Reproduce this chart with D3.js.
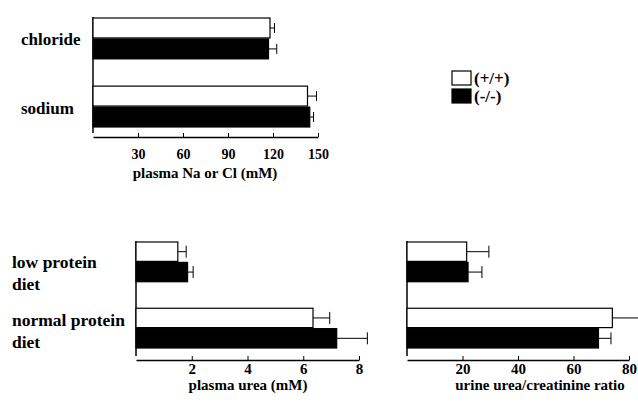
<!DOCTYPE html>
<html>
<head>
<meta charset="utf-8">
<script src="https://cdn.jsdelivr.net/npm/d3@7"></script>
<style>
  body { margin: 0; background: #fff; }
  text { font-family: "Liberation Serif", "Times New Roman", serif; font-weight: bold; fill: #000; }
</style>
</head>
<body>
<div id="chart"></div>
<script>
// Data
var genotypes = ["(+/+)", "(-/-)"];

var ionCategories = ["chloride", "sodium"];
var ionMeans = { "chloride": [118, 117], "sodium": [143, 144.5] };
var ionErrors = { "chloride": [3, 5.5], "sodium": [6, 2.5] };
var ionTicks = [30, 60, 90, 120, 150];

var dietCategories = ["low protein diet", "normal protein diet"];
var ureaMeans = { "low protein diet": [1.5, 1.85], "normal protein diet": [6.35, 7.2] };
var ureaErrors = { "low protein diet": [0.3, 0.2], "normal protein diet": [0.6, 1.1] };
var ureaTicks = [2, 4, 6, 8];

var ratioMeans = { "low protein diet": [21.5, 22], "normal protein diet": [74, 69] };
var ratioErrors = { "low protein diet": [8, 5], "normal protein diet": [10, 4.5] };
var ratioTicks = [20, 40, 60, 80];

var fills = ["#fff", "#000"];

var svg = d3.select("#chart")
  .append("svg")
  .attr("width", 638)
  .attr("height", 407);

// Draws one horizontal bar panel
function panel(opts) {
  var x = d3.scaleLinear().domain(opts.domain).range([opts.x0, opts.x1]);
  var y = d3.scaleBand().domain(opts.categories).range([opts.y0, opts.y1]).paddingInner(0.4);
  var yInner = d3.scaleBand().domain(genotypes).range([0, y.bandwidth()]).paddingInner(0.05);

  var g = svg.append("g");

  // y axis line
  g.append("line")
    .attr("x1", opts.x0).attr("x2", opts.x0)
    .attr("y1", opts.y0 - 1).attr("y2", opts.yAxisEnd)
    .attr("stroke", "#000").attr("stroke-width", 1.5);

  // x axis
  g.append("g")
    .attr("transform", "translate(0," + opts.xAxisY + ")")
    .call(d3.axisBottom(x).tickValues(opts.ticks).tickSizeInner(-4).tickSizeOuter(0).tickPadding(opts.tickPad))
    .call(function(a) {
      a.select(".domain").attr("stroke-width", 1.5);
      a.selectAll("text")
        .style("font-family", "'Liberation Serif', serif")
        .style("font-weight", "bold")
        .style("font-size", opts.tickFont + "px");
    });

  opts.categories.forEach(function(c) {
    genotypes.forEach(function(gt, i) {
      var yy = y(c) + yInner(gt);
      var h = yInner.bandwidth();
      var v = opts.means[c][i];
      var e = opts.errors[c][i];
      var cy = yy + h / 2;
      // error bar
      g.append("line")
        .attr("x1", x(v)).attr("x2", x(v + e))
        .attr("y1", cy).attr("y2", cy)
        .attr("stroke", "#000").attr("stroke-width", 1);
      g.append("line")
        .attr("x1", x(v + e)).attr("x2", x(v + e))
        .attr("y1", cy - opts.cap).attr("y2", cy + opts.cap)
        .attr("stroke", "#000").attr("stroke-width", 1);
      // bar
      g.append("rect")
        .attr("x", x(0))
        .attr("y", yy)
        .attr("width", x(v) - x(0))
        .attr("height", h)
        .attr("fill", fills[i])
        .attr("stroke", "#000")
        .attr("stroke-width", 1.2);
    });
  });

  // axis title
  g.append("text")
    .attr("x", opts.titleX)
    .attr("y", opts.titleY)
    .attr("text-anchor", "middle")
    .style("font-size", "15px")
    .text(opts.title);

  return y;
}

var yTop = panel({
  categories: ionCategories, means: ionMeans, errors: ionErrors,
  domain: [0, 150], ticks: ionTicks,
  x0: 93, x1: 318, y0: 18, y1: 127, yAxisEnd: 133, xAxisY: 137,
  tickFont: 14, tickPad: 12, cap: 5,
  title: "plasma Na or Cl (mM)", titleX: 205, titleY: 178
});

panel({
  categories: dietCategories, means: ureaMeans, errors: ureaErrors,
  domain: [0, 8], ticks: ureaTicks,
  x0: 136, x1: 359, y0: 242, y1: 348, yAxisEnd: 356, xAxisY: 360,
  tickFont: 15, tickPad: 3, cap: 6,
  title: "plasma urea (mM)", titleX: 248, titleY: 390
});

panel({
  categories: dietCategories, means: ratioMeans, errors: ratioErrors,
  domain: [0, 80], ticks: ratioTicks,
  x0: 407, x1: 629, y0: 242, y1: 348, yAxisEnd: 356, xAxisY: 360,
  tickFont: 15, tickPad: 3, cap: 6,
  title: "urine urea/creatinine ratio", titleX: 540, titleY: 390
});

// category labels, top panel
ionCategories.forEach(function(c) {
  svg.append("text")
    .attr("x", 21)
    .attr("y", yTop(c) + yTop.bandwidth() / 2 + 7)
    .style("font-size", "17px")
    .text(c);
});

// category labels, bottom panels (two lines), baselines on their own point scale
var yLabel = d3.scalePoint().domain(dietCategories).range([268, 326]);
dietCategories.forEach(function(c) {
  var words = c.split(" ");
  var line1 = words.slice(0, 2).join(" ");
  var line2 = words.slice(2).join(" ");
  svg.append("text").attr("x", 12).attr("y", yLabel(c)).style("font-size", "17.5px").text(line1);
  svg.append("text").attr("x", 12).attr("y", yLabel(c) + 21.5).style("font-size", "17.5px").text(line2);
});

// legend
genotypes.forEach(function(gt, i) {
  var ly = 71 + i * 18;
  svg.append("rect")
    .attr("x", 452).attr("y", ly)
    .attr("width", 19).attr("height", 14)
    .attr("fill", fills[i]).attr("stroke", "#000").attr("stroke-width", 1.2);
  svg.append("text")
    .attr("x", 474).attr("y", ly + 13)
    .style("font-size", "17px")
    .text(gt);
});
</script>
</body>
</html>
